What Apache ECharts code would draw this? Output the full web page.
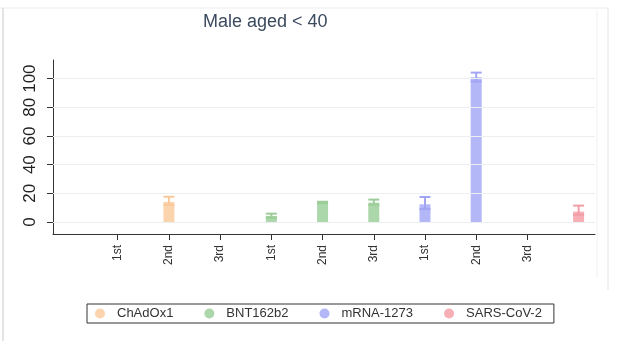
<!DOCTYPE html>
<html>
<head>
<meta charset="utf-8">
<script src="https://cdn.jsdelivr.net/npm/echarts@6/dist/echarts.min.js"></script>
<style>
html,body{margin:0;padding:0;background:#fff;}
#main{width:640px;height:341px;}
</style>
</head>
<body>
<div id="main"></div>
<script>
// ---- data ----
var xTickLabels = ['1st','2nd','3rd','1st','2nd','3rd','1st','2nd','3rd'];
var xTickPositions = [1,2,3,4,5,6,7,8,9];
var yTickValues = [0,20,40,60,80,100];
var seriesNames = ['ChAdOx1','BNT162b2','mRNA-1273','SARS-CoV-2'];

var chadPos = [2];       var chadVal = [14];            var chadLow = [12];           var chadHigh = [17.6];
var bntPos  = [4,5,6];   var bntVal  = [4.2,13.6,13.5]; var bntLow  = [3,13.1,12];    var bntHigh  = [5.8,14.1,15.6];
var mrnaPos = [7,8];     var mrnaVal = [12.3,101];      var mrnaLow = [9,98];         var mrnaHigh = [17.4,104.2];
var sarsPos = [10];      var sarsVal = [7.2];           var sarsLow = [5];            var sarsHigh = [11.4];

var colors = ['#fbd4ad','#acd7aa','#b3b6f7','#f6afb5'];
var capColors = ['#f8c89a','#9ccd99','#a2a6f2','#f29ea6'];

function pairs(pos, val){ return pos.map(function(p,i){ return [p, val[i]]; }); }
var groups = [
  {pos: chadPos, val: chadVal, low: chadLow, high: chadHigh},
  {pos: bntPos, val: bntVal, low: bntLow, high: bntHigh},
  {pos: mrnaPos, val: mrnaVal, low: mrnaLow, high: mrnaHigh},
  {pos: sarsPos, val: sarsVal, low: sarsLow, high: sarsHigh}
];

var series = groups.map(function(g, i){
  return {
    name: seriesNames[i], type: 'bar', data: pairs(g.pos, g.val),
    barWidth: 11, barGap: '-100%',
    itemStyle: {color: colors[i]}
  };
});

var errData = [];
groups.forEach(function(g, i){
  g.pos.forEach(function(p, j){ errData.push([p, g.low[j], g.high[j], i]); });
});

series.push({
  type: 'custom', name: 'ci', silent: true, z: 3,
  data: errData,
  renderItem: function(params, api){
    var x = api.value(0), lo = api.value(1), hi = api.value(2), gi = api.value(3);
    var pLo = api.coord([x, lo]), pHi = api.coord([x, hi]);
    var half = 5.5;
    var st = {stroke: capColors[gi], lineWidth: 2};
    return {type: 'group', children: [
      {type: 'line', shape: {x1: pLo[0], y1: pLo[1], x2: pHi[0], y2: pHi[1]}, style: st},
      {type: 'line', shape: {x1: pHi[0]-half, y1: pHi[1], x2: pHi[0]+half, y2: pHi[1]}, style: st},
      {type: 'line', shape: {x1: pLo[0]-half, y1: pLo[1], x2: pLo[0]+half, y2: pLo[1]}, style: st}
    ]};
  }
});

// gridlines
series.push({
  type: 'line', data: [], silent: true,
  markLine: {
    silent: true, symbol: ['none','none'], label: {show: false},
    lineStyle: {color: '#eceff1', width: 1, type: 'solid'},
    data: yTickValues.map(function(v){ return {yAxis: v}; })
  },
  z: 0
});

var chart = echarts.init(document.getElementById('main'), null, {renderer: 'canvas'});
chart.setOption({
  backgroundColor: '#fff',
  animation: false,
  title: {
    text: 'Male aged < 40', left: 198, top: 8,
    textStyle: {fontFamily: 'Liberation Sans', fontSize: 18, fontWeight: 'normal', color: '#3b4a5e'}
  },
  legend: {
    data: seriesNames, left: 87, top: 304, icon: 'circle',
    itemWidth: 10, itemHeight: 10, itemGap: 31,
    borderColor: '#333', borderWidth: 1, padding: [3, 12, 3, 8],
    textStyle: {fontFamily: 'Liberation Sans', fontSize: 13, color: '#333', padding: [0,0,0,7]}
  },
  grid: {left: 53, right: 45, top: 60, bottom: 107},
  xAxis: {
    type: 'value', min: -0.264, max: 10.32,
    axisLine: {show: true, onZero: false, lineStyle: {color: '#333', width: 1}},
    axisTick: {show: true, customValues: xTickPositions, length: 6, lineStyle: {color: '#333'}},
    axisLabel: {
      customValues: xTickPositions, rotate: 90, margin: 11,
      fontFamily: 'Liberation Sans', fontSize: 12, color: '#333',
      formatter: function(v){ return xTickLabels[Math.round(v) - 1] || ''; }
    },
    splitLine: {show: false}
  },
  yAxis: {
    type: 'value', min: -8.4, max: 113,
    axisLine: {show: true, onZero: false, lineStyle: {color: '#333', width: 1}},
    axisTick: {show: true, customValues: yTickValues, length: 6, lineStyle: {color: '#333'}},
    axisLabel: {
      customValues: yTickValues, rotate: 90, margin: 14,
      fontFamily: 'Liberation Sans', fontSize: 17, color: '#222'
    },
    splitLine: {show: false}
  },
  graphic: [
    {type: 'line', shape: {x1: 597, y1: 10, x2: 597, y2: 278}, style: {stroke: '#eef0f2', lineWidth: 1}, silent: true},
    {type: 'line', shape: {x1: 608, y1: 8, x2: 608, y2: 290}, style: {stroke: '#e2e4e6', lineWidth: 1}, silent: true},
    {type: 'line', shape: {x1: 0, y1: 8, x2: 608, y2: 8}, style: {stroke: '#ececec', lineWidth: 1}, silent: true},
    {type: 'line', shape: {x1: 3, y1: 8, x2: 3, y2: 341}, style: {stroke: '#e4e4e4', lineWidth: 2}, silent: true}
  ],
  series: series
});
</script>
</body>
</html>
